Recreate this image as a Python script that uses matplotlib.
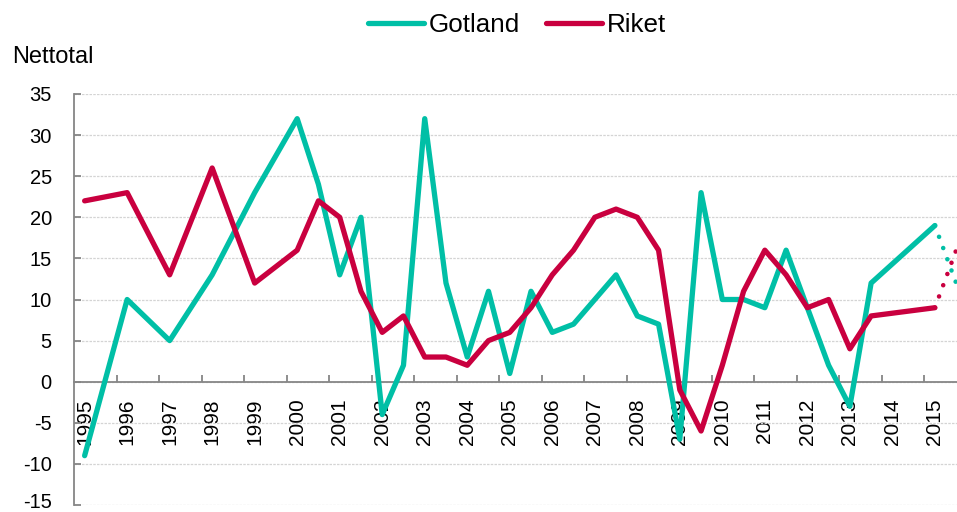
import matplotlib
matplotlib.use("Agg")
import matplotlib.pyplot as plt
import matplotlib.transforms as mtransforms
import numpy as np

plt.rcParams['font.family'] = ['Liberation Sans', 'DejaVu Sans']
plt.rcParams['axes.unicode_minus'] = False

# half-year periods (annual before 2000, 2014 missing)
periods = [1995, 1996, 1997, 1998, 1999, 2000, 2000.5, 2001, 2001.5, 2002,
           2002.5, 2003, 2003.5, 2004, 2004.5, 2005, 2005.5, 2006, 2006.5,
           2007, 2007.5, 2008, 2008.5, 2009, 2009.5, 2010, 2010.5, 2011,
           2011.5, 2012, 2012.5, 2013, 2013.5, 2015]
gotland = [-9, 10, 5, 13, 23, 32, 24, 13, 20, -4, 2, 32, 12, 3, 11, 1, 11,
           6, 7, 10, 13, 8, 7, -7, 23, 10, 10, 9, 16, 9, 2, -3, 12, 19]
riket = [22, 23, 13, 26, 12, 16, 22, 20, 11, 6, 8, 3, 3, 2, 5, 6, 9, 13, 16,
         20, 21, 20, 16, -1, -6, 2, 11, 16, 13, 9, 10, 4, 8, 9]

# forecast
forecast_periods = [2015, 2015.5]
gotland_forecast = [19, 12]
riket_forecast = [9, 16]

years = list(range(1995, 2016))

teal = '#00BFA6'
red = '#C9003F'
grey = '#868686'

fig = plt.figure(figsize=(9.57, 5.12), dpi=100)
ax = fig.add_axes([74 / 957, 7 / 512, 883 / 957, 411 / 512])

lw = 3.8
ax.plot(periods, gotland, color=teal, lw=lw, solid_capstyle='round',
        solid_joinstyle='round', label='Gotland', zorder=3)
ax.plot(periods, riket, color=red, lw=lw, solid_capstyle='round',
        solid_joinstyle='round', label='Riket', zorder=4)
dots = (2.6, (0.01, 2.6))
ax.plot(forecast_periods, gotland_forecast, color=teal, lw=3.3,
        linestyle=dots, dash_capstyle='round', zorder=3, clip_on=False)
ax.plot(forecast_periods, riket_forecast, color=red, lw=3.3,
        linestyle=dots, dash_capstyle='round', zorder=4, clip_on=False)

ax.set_ylim(-15, 35)
ax.set_xlim(1994.75, 2015.52)
ax.set_yticks(np.arange(-15, 40, 5))
ax.yaxis.grid(True, color='#d4d4d4', lw=0.9, linestyle=(0, (2, 1)))
ax.set_axisbelow(True)

# x axis sits at zero, labels at each year, tick marks between years
ax.spines['bottom'].set_position(('data', 0))
ax.spines['top'].set_visible(False)
ax.spines['right'].set_visible(False)
for s in ['bottom', 'left']:
    ax.spines[s].set_color(grey)
    ax.spines[s].set_linewidth(1.3)

ax.set_xticks(years)
ax.set_xticklabels([str(y) for y in years], rotation=90, fontsize=15)
ax.set_xticks([y + 0.75 for y in years[:-1]], minor=True)
ax.tick_params(axis='x', which='major', length=0, pad=12)
ax.tick_params(axis='x', which='minor', direction='in', length=5,
               width=1.3, color=grey)
ax.tick_params(axis='y', direction='in', length=5, width=1.3, color=grey,
               pad=16, labelsize=14.5)

# keep the bottom label inside the picture
low = ax.get_yticklabels()[0]
low.set_transform(low.get_transform() +
                  mtransforms.ScaledTranslation(0, 3 / 72, fig.dpi_scale_trans))

fig.text(12 / 957, 1 - 63.3 / 512, 'Nettotal', fontsize=17, ha='left',
         va='baseline')

fig.legend(loc='center', bbox_to_anchor=(517 / 957, 1 - 25 / 512), ncol=2,
           frameon=False, fontsize=18.7, handlelength=2.15,
           handletextpad=0.2, columnspacing=1.0)

fig.savefig('out.png', dpi=100)
plt.close(fig)
